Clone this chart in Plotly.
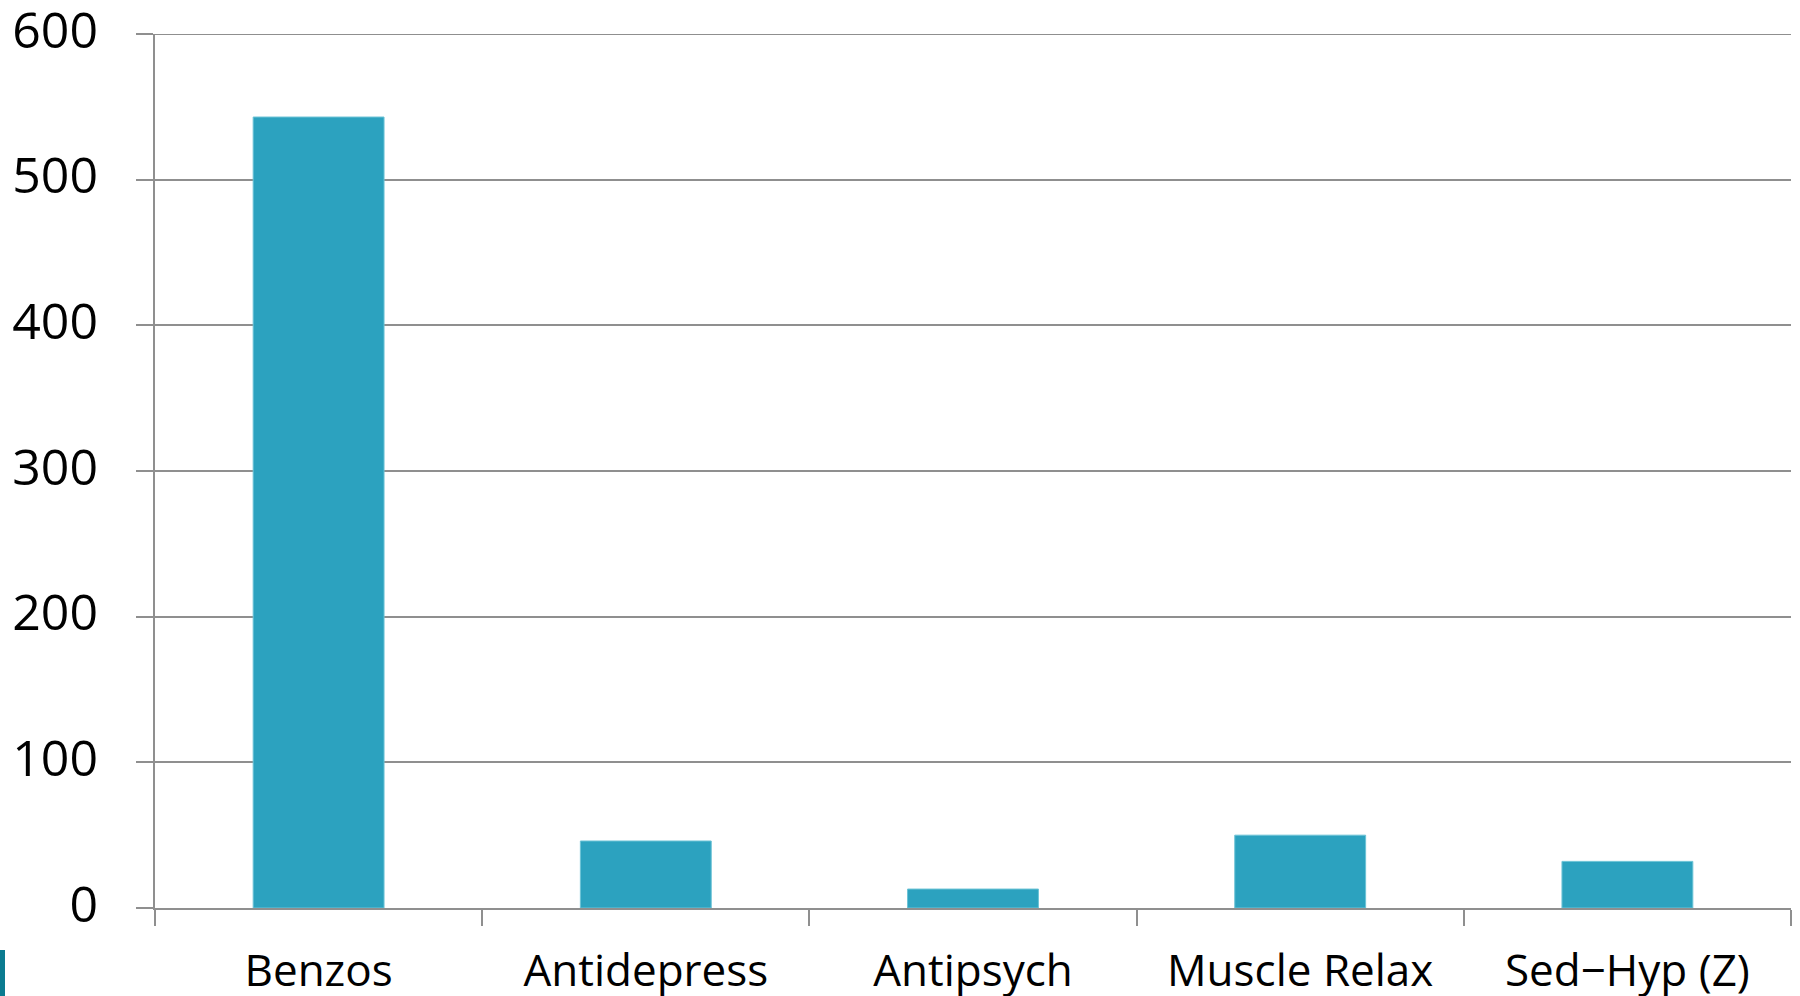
import plotly.graph_objects as go

categories = ["Benzos", "Antidepress", "Antipsych", "Muscle Relax", "Sed\u2212Hyp (Z)"]
values = [543, 46, 13, 50, 32]
y_ticks = [0, 100, 200, 300, 400, 500, 600]

grid_col = "#8f8f8f"

fig = go.Figure(go.Bar(
    x=categories, y=values,
    marker=dict(color="#2ca2bf", line=dict(color="#6cc3d6", width=1)),
    width=0.4,
))

fig.update_layout(
    width=1800, height=996,
    margin=dict(l=155, r=9, t=34, b=88),
    paper_bgcolor="white", plot_bgcolor="white",
    showlegend=False,
    xaxis=dict(
        automargin=False,
        showline=True, linecolor=grid_col, linewidth=2,
        ticks="outside", tickson="boundaries", ticklen=16, tickcolor=grid_col, tickwidth=2,
        tickfont=dict(family="Open Sans", size=44, color="black"),
        ticklabelstandoff=23,
        showgrid=False,
    ),
    yaxis=dict(
        automargin=False,
        range=[0, 600], tickvals=y_ticks,
        showline=True, linecolor=grid_col, linewidth=2,
        ticks="outside", ticklen=17, tickcolor=grid_col, tickwidth=2,
        showgrid=True, gridcolor=grid_col, gridwidth=2,
        zeroline=False,
        tickfont=dict(family="Open Sans", size=50, color="black"),
        ticklabelstandoff=28, ticklabelshift=-4,
        ticklabeloverflow="allow",
    ),
    shapes=[
        dict(type="line", xref="paper", yref="y", x0=0, x1=1,
             y0=y_ticks[-1], y1=y_ticks[-1], line=dict(color=grid_col, width=2)),
        dict(type="rect", xref="paper", yref="paper",
             x0=-155/1636, x1=-150/1636, y0=-88/874, y1=-42/874,
             fillcolor="#0b7b90", line=dict(width=0), layer="above"),
    ],
)

fig.write_html("out.html", config={"displayModeBar": False},
               post_script="document.body.style.margin='0px';document.body.style.overflow='hidden';")
